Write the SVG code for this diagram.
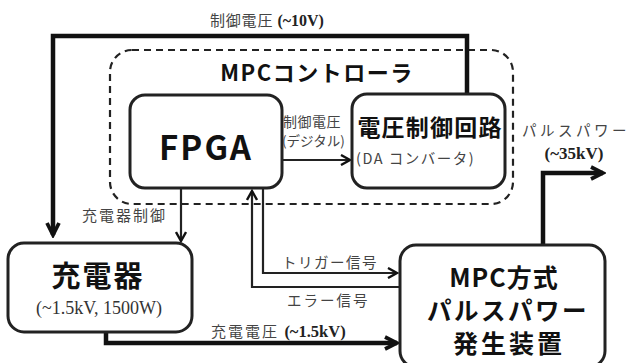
<svg xmlns="http://www.w3.org/2000/svg" width="629" height="363" viewBox="0 0 629 363">
<style>
.box{fill:#fff;stroke:#222;stroke-width:3}
.thick{fill:none;stroke:#111;stroke-width:4.5}
.thin{fill:none;stroke:#222;stroke-width:2.2}
.jp{font-family:"Noto Sans CJK JP","Noto Sans",sans-serif;fill:#444}
.b{font-weight:bold;fill:#111}
.sr{font-family:"Liberation Serif","Noto Sans CJK JP",serif;font-weight:bold;fill:#222;letter-spacing:0}
</style>
<defs>
<marker id="ah" viewBox="0 0 12 12" refX="10" refY="6" markerWidth="12" markerHeight="12" markerUnits="userSpaceOnUse" orient="auto"><polyline points="1,1 10,6 1,11" fill="none" stroke="#111" stroke-width="2.4"/></marker>
<marker id="ahb" viewBox="0 0 12 12" refX="10" refY="6" markerWidth="16" markerHeight="16" markerUnits="userSpaceOnUse" orient="auto"><polyline points="1,1.5 10,6 1,10.5" fill="none" stroke="#111" stroke-width="2.8"/></marker>
</defs>
<rect x="110" y="50" width="403" height="154" rx="22" fill="none" stroke="#222" stroke-width="2.2" stroke-dasharray="7,5"/>
<text class="jp b" x="317" y="81" font-size="22" letter-spacing="1.5" text-anchor="middle">MPCコントローラ</text>
<g id="connectors">
<polyline class="thick" points="467,94 467,36 53,36 53,235" marker-end="url(#ahb)"/>
<polyline class="thin" points="283,160 350,160" marker-end="url(#ah)"/>
<polyline class="thin" points="181,189 181,241" marker-end="url(#ah)"/>
<polyline class="thin" points="263,189 263,273 397,273" marker-end="url(#ah)"/>
<polyline class="thin" points="400,287 252,287 252,191" marker-end="url(#ah)"/>
<polyline class="thick" points="106,332 106,343 397,343" marker-end="url(#ahb)"/>
<polyline class="thick" points="543,245 543,173 603,173" marker-end="url(#ahb)"/>
</g>
<g id="fpga"><rect class="box" x="130" y="95" width="152" height="93" rx="15"/>
<text class="jp b" x="206" y="160" font-size="33" letter-spacing="2" text-anchor="middle">FPGA</text></g>
<g id="dac"><rect class="box" x="352" y="94" width="153" height="94" rx="15"/>
<text class="jp b" x="430" y="136" font-size="23" letter-spacing="1.2" text-anchor="middle">電圧制御回路</text>
<text class="jp" x="356" y="164" font-size="14.5" letter-spacing="1.5">(DA コンバータ)</text></g>
<g id="charger"><rect class="box" x="8" y="243" width="184" height="89" rx="16"/>
<text class="jp b" x="98" y="287" font-size="29" letter-spacing="2" text-anchor="middle">充電器</text>
<text x="99" y="314" font-size="18" text-anchor="middle" font-family="Liberation Serif,serif" fill="#333">(~1.5kV, 1500W)</text></g>
<g id="mpc"><rect class="box" x="400" y="245" width="205" height="122" rx="16"/>
<text class="jp b" x="504" y="287" font-size="25" letter-spacing="1" text-anchor="middle">MPC方式</text>
<text class="jp b" x="508" y="320" font-size="24.5" letter-spacing="2.5" text-anchor="middle">パルスパワー</text>
<text class="jp b" x="509" y="353" font-size="25" letter-spacing="3" text-anchor="middle">発生装置</text></g>
<text class="jp" x="210" y="26" font-size="15" letter-spacing="0.8">制御電圧 <tspan class="sr" font-size="16">(~10V)</tspan></text>
<text class="jp" x="283" y="127" font-size="14" letter-spacing="0.5">制御電圧</text>
<text class="jp" x="282" y="146" font-size="13.5">(デジタル)</text>
<text class="jp" x="522" y="136" font-size="14.5" letter-spacing="3.5">パルスパワー</text>
<text class="sr" x="574" y="159" font-size="17" text-anchor="middle">(~35kV)</text>
<text class="jp" x="82" y="221" font-size="15" letter-spacing="2">充電器制御</text>
<text class="jp" x="282" y="268" font-size="14.5" letter-spacing="1.5">トリガー信号</text>
<text class="jp" x="287" y="306" font-size="14.5" letter-spacing="2">エラー信号</text>
<text class="jp" x="211" y="337" font-size="15" letter-spacing="2">充電電圧 <tspan class="sr" font-size="16.5">(~1.5kV)</tspan></text>
</svg>
